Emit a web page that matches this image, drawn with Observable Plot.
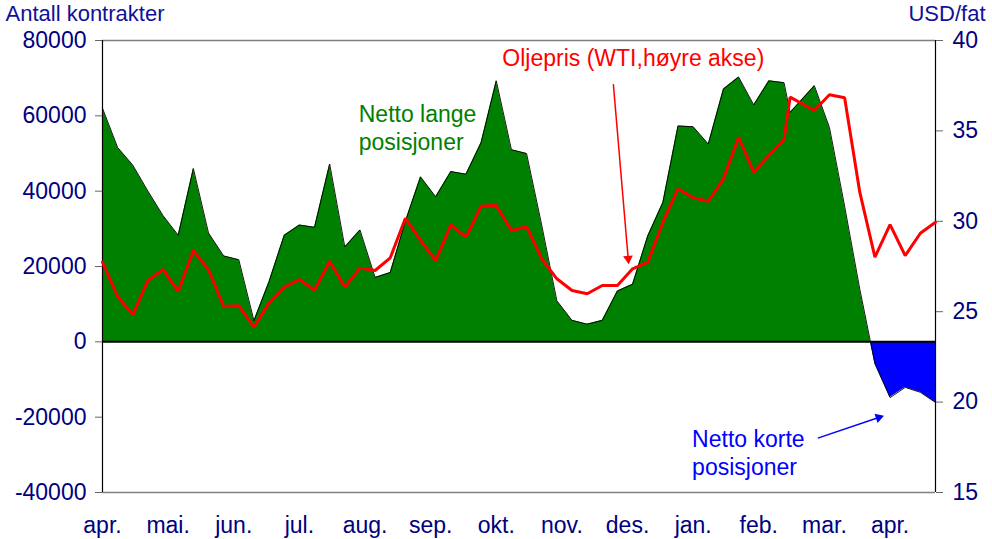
<!DOCTYPE html>
<html>
<head>
<meta charset="utf-8">
<script src="https://cdn.jsdelivr.net/npm/d3@7"></script>
<script src="https://cdn.jsdelivr.net/npm/@observablehq/plot@0.6"></script>
<style>
  html, body { margin: 0; padding: 0; background: #ffffff; }
  #chart svg { display: block; }
</style>
</head>
<body>
<div id="chart"></div>
<script>
// Week index (one point per week; one observation falls slightly off the weekly grid)
const uke = [0,1,2,3,4,5,6,7,8,9,10,11,12,13,14,15,16,17,18,19,20,21,22,23,24,25,26,27,28,29,
  30,31,32,33,34,35,36,37,38,39,40,41,42,43,44,45,45.4,47,48,49,50,51,52,53,54,55];

// Net positions (number of contracts, left axis)
const posisjoner = [62000,51600,46900,40000,33500,28300,46000,28900,22800,21800,5600,16000,28300,31000,30400,
  47200,25200,29700,17100,18400,32000,43800,38500,45200,44500,52900,69300,51000,50000,31000,
  10900,5700,4700,5700,13500,15300,28100,37000,57300,57100,52500,67100,70300,62900,69300,68800,
  60900,68000,56900,36000,14000,-5800,-14800,-12100,-13400,-16100];

// Oil price WTI, USD per barrel (right axis)
const oljepris = [27.74,25.84,24.83,26.73,27.33,26.13,28.38,27.32,25.29,25.33,24.14,25.49,26.36,26.78,26.2,
  27.79,26.36,27.41,27.28,27.98,30.17,28.94,27.83,29.8,29.12,30.84,30.87,29.49,29.7,27.93,
  26.82,26.17,25.99,26.45,26.45,27.37,27.74,29.95,31.8,31.3,31.11,32.35,34.65,32.72,33.64,34.52,
  36.87,36.13,37.0,36.83,31.61,28.02,29.82,28.1,29.34,29.95];

const months = ["apr.","mai.","jun.","jul.","aug.","sep.","okt.","nov.","des.","jan.","feb.","mar.","apr."];
const leftTicks = [-40000,-20000,0,20000,40000,60000,80000];
const rightTicks = [15,20,25,30,35,40];

// map price (15..40) onto the contracts scale (-40000..80000)
const toLeft = p => -40000 + (p - 15) * 4800;
const toPrice = v => 15 + (v + 40000) / 4800;

const data = uke.map((u, i) => ({uke: u, pos: posisjoner[i], pris: toLeft(oljepris[i])}));
const monthPos = months.map((m, k) => k * 52 / 12);

const navy = "#000080";
const titleBlue = "#10109a";
const font = "'Liberation Sans', Arial, sans-serif";
const fs = 23;

const gradient = (index, scales, values, dims) => {
  const y0 = scales.y(0);
  const defs = d3.create("svg:defs");
  const g = defs.append("linearGradient")
    .attr("id", "posneg").attr("gradientUnits", "userSpaceOnUse")
    .attr("x1", 0).attr("x2", 0).attr("y1", 0).attr("y2", dims.height);
  const f = y0 / dims.height;
  g.append("stop").attr("offset", f).attr("stop-color", "#008000");
  g.append("stop").attr("offset", f).attr("stop-color", "#0000ff");
  return defs.node();
};

const chart = Plot.plot({
  width: 992,
  height: 539,
  marginLeft: 102,
  marginRight: 57,
  marginTop: 40,
  marginBottom: 47,
  style: {fontFamily: font, background: "#ffffff", overflow: "visible"},
  x: {domain: [0, 55]},
  y: {domain: [-40000, 80000]},
  marks: [
    gradient,
    Plot.areaY(data, {x: "uke", y: "pos", fill: "url(#posneg)", curve: "linear"}),
    Plot.lineY(data, {x: "uke", y: "pos", stroke: "#000000", strokeWidth: 0.9}),
    Plot.ruleY([80000], {stroke: "#808080", strokeWidth: 1.5}),
    Plot.ruleY([-40000], {stroke: "#808080", strokeWidth: 1.5}),
    Plot.ruleX([0], {stroke: "#000000", strokeWidth: 1.2}),
    Plot.ruleX([55], {stroke: "#000000", strokeWidth: 1.2}),
    Plot.ruleY([0], {stroke: "#000000", strokeWidth: 2}),
    Plot.lineY(data, {x: "uke", y: "pris", stroke: "#ff0000", strokeWidth: 3, strokeLinejoin: "miter"}),
    Plot.axisY({ticks: leftTicks, tickSize: 7, tickPadding: 9, stroke: "#666666", fill: navy,
      fontSize: fs, label: null, tickFormat: d => String(d)}),
    Plot.axisY({anchor: "right", ticks: rightTicks.map(toLeft), tickSize: 7, tickPadding: 10,
      stroke: "#666666", fill: navy, fontSize: fs, label: null,
      tickFormat: d => String(Math.round(toPrice(d)))}),
    Plot.axisX({ticks: monthPos, tickSize: 0, tickPadding: 24, fill: navy, fontSize: fs, label: null,
      tickFormat: d => months[Math.round(d * 12 / 52)]}),
    Plot.text(["Antall kontrakter"], {frameAnchor: "top-left", dx: -97, dy: -35, textAnchor: "start",
      lineAnchor: "top", fill: titleBlue, fontSize: 22}),
    Plot.text(["USD/fat"], {frameAnchor: "top-right", dx: 50, dy: -35, textAnchor: "end",
      lineAnchor: "top", fill: titleBlue, fontSize: 22}),
    Plot.text(["Netto lange\nposisjoner"], {x: 16.92, y: 63450, textAnchor: "start", lineAnchor: "top",
      fill: "#008000", fontSize: fs, lineHeight: 1.2}),
    Plot.text(["Oljepris (WTI,høyre akse)"], {x: 26.4, y: 77700, textAnchor: "start", lineAnchor: "top",
      fill: "#ff0000", fontSize: fs}),
    Plot.text(["Netto korte\nposisjoner"], {x: 38.93, y: -22750, textAnchor: "start", lineAnchor: "top",
      fill: "#0000ff", fontSize: fs, lineHeight: 1.2}),
    // annotation arrows: shaft + filled head
    Plot.link([0], {x1: 33.73, y1: 68420, x2: 34.71, y2: 22060, stroke: "#ff0000", strokeWidth: 1.5}),
    Plot.dot([0], {x: 34.71, y: 22060, symbol: "triangle", r: 3.6, fill: "#ff0000", stroke: "none", rotate: 175}),
    Plot.link([0], {x1: 47.23, y1: -25570, x2: 51.25, y2: -20100, stroke: "#0000ff", strokeWidth: 1.5}),
    Plot.dot([0], {x: 51.25, y: -20100, symbol: "triangle", r: 3.6, fill: "#0000ff", stroke: "none", rotate: 71.6})
  ]
});

document.getElementById("chart").appendChild(chart);
</script>
</body>
</html>
